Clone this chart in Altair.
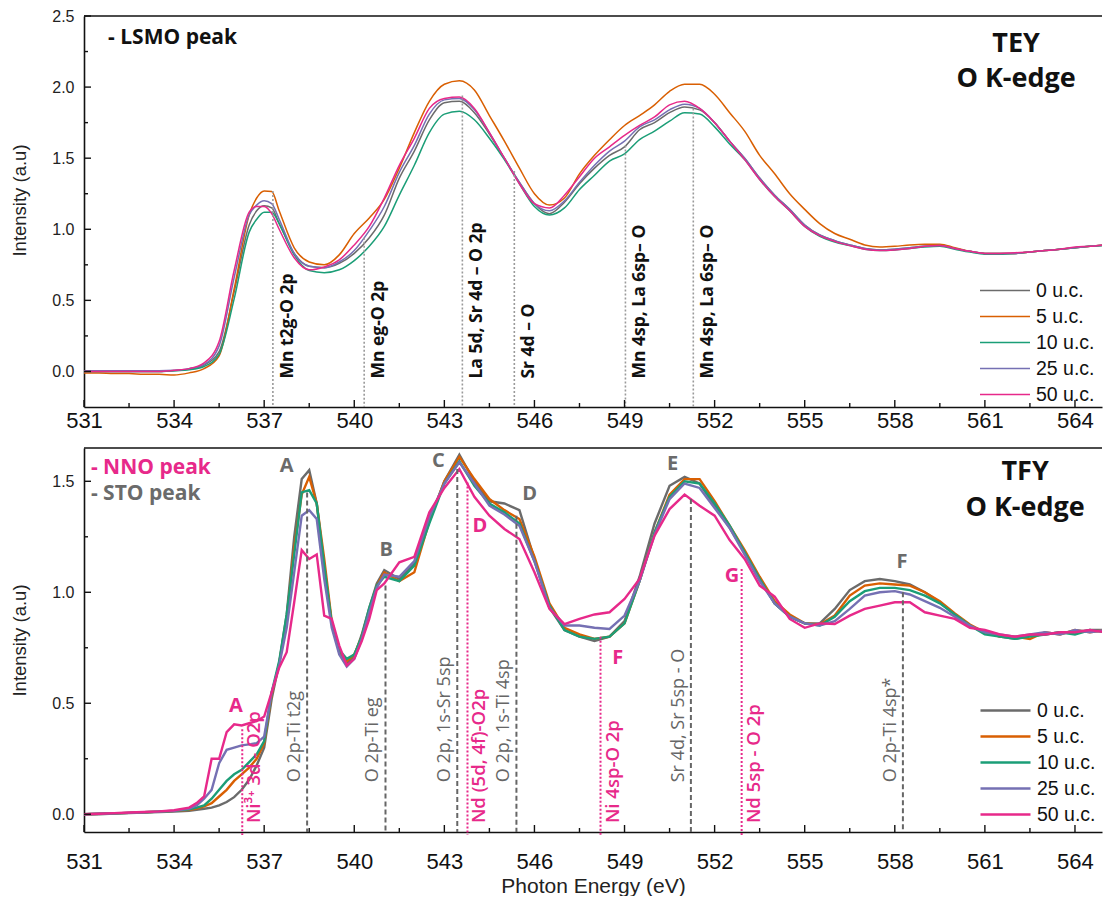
import altair as alt
import pandas as pd

SERIES = ["0 u.c.", "5 u.c.", "10 u.c.", "25 u.c.", "50 u.c."]
COLORS = ["#6b6b6b", "#d95f02", "#1b9e77", "#7570b3", "#e7298a"]

# ---------------- TEY (top panel) ----------------
TEY_E = [531.0, 531.5, 532.0, 532.5, 533.0, 533.5, 534.0, 534.5, 535.0, 535.5,
         536.0, 536.5, 536.75, 537.0, 537.25, 537.5, 538.0, 538.5, 539.0, 539.5, 540.0, 540.5,
         541.0, 541.5, 542.0, 542.5, 543.0, 543.5, 544.0, 544.5, 545.0, 545.5,
         546.0, 546.5, 547.0, 547.5, 548.0, 548.5, 549.0, 549.5, 550.0, 550.5,
         551.0, 551.5, 552.0, 552.5, 553.0, 553.5, 554.0, 554.5, 555.0, 555.5,
         556.0, 556.5, 557.0, 557.5, 558.0, 558.5, 559.0, 559.5, 560.0, 560.5,
         561.0, 561.5, 562.0, 562.5, 563.0, 563.5, 564.0, 564.5, 565.0]
TEY_0 = [0.0, 0.0, 0.0, 0.0, 0.0, 0.0, 0.005, 0.015, 0.045, 0.14,
         0.56, 1.03, 1.13, 1.165, 1.15, 1.04, 0.83, 0.74, 0.73, 0.76, 0.83, 0.94,
         1.10, 1.36, 1.55, 1.77, 1.89, 1.90, 1.82, 1.67, 1.50, 1.33,
         1.18, 1.11, 1.19, 1.32, 1.43, 1.52, 1.58, 1.70, 1.75, 1.82,
         1.86, 1.84, 1.75, 1.62, 1.50, 1.36, 1.24, 1.14, 1.03, 0.96,
         0.92, 0.89, 0.865, 0.855, 0.86, 0.87, 0.88, 0.885, 0.865, 0.845,
         0.83, 0.83, 0.83, 0.84, 0.85, 0.86, 0.87, 0.88, 0.89]
TEY_5 = [-0.01, -0.01, -0.015, -0.015, -0.02, -0.02, -0.025, -0.01, 0.02, 0.11,
         0.58, 1.10, 1.22, 1.27, 1.265, 1.13, 0.87, 0.77, 0.75, 0.82, 0.97, 1.08,
         1.21, 1.43, 1.68, 1.90, 2.02, 2.045, 1.98, 1.80, 1.62, 1.43,
         1.25, 1.17, 1.22, 1.39, 1.52, 1.63, 1.73, 1.80, 1.875, 1.97,
         2.02, 2.02, 1.95, 1.82, 1.69, 1.52, 1.39, 1.25, 1.14, 1.04,
         0.97, 0.93, 0.89, 0.875, 0.88, 0.89, 0.895, 0.895, 0.87, 0.845,
         0.83, 0.83, 0.83, 0.84, 0.85, 0.86, 0.87, 0.88, 0.89]
TEY_10 = [0.0, 0.0, 0.0, 0.0, 0.0, 0.0, 0.005, 0.012, 0.035, 0.12,
          0.51, 0.98, 1.07, 1.12, 1.12, 1.04, 0.82, 0.71, 0.695, 0.715, 0.78, 0.88,
          1.02, 1.24, 1.45, 1.68, 1.81, 1.83, 1.77, 1.64, 1.49, 1.32,
          1.16, 1.10, 1.15, 1.28, 1.38, 1.48, 1.53, 1.63, 1.69, 1.76,
          1.82, 1.81, 1.72, 1.60, 1.49, 1.35, 1.23, 1.13, 1.02, 0.95,
          0.91, 0.885, 0.86, 0.85, 0.855, 0.865, 0.875, 0.88, 0.86, 0.84,
          0.825, 0.825, 0.83, 0.84, 0.85, 0.86, 0.87, 0.88, 0.885]
TEY_25 = [0.005, 0.005, 0.005, 0.005, 0.005, 0.005, 0.008, 0.02, 0.05, 0.18,
          0.66, 1.10, 1.17, 1.20, 1.18, 1.07, 0.83, 0.74, 0.73, 0.77, 0.85, 0.99,
          1.16, 1.40, 1.59, 1.81, 1.91, 1.92, 1.84, 1.68, 1.50, 1.33,
          1.18, 1.13, 1.20, 1.33, 1.45, 1.55, 1.62, 1.72, 1.77, 1.84,
          1.88, 1.85, 1.75, 1.62, 1.50, 1.36, 1.24, 1.14, 1.03, 0.96,
          0.92, 0.89, 0.865, 0.855, 0.86, 0.87, 0.88, 0.885, 0.865, 0.845,
          0.83, 0.83, 0.83, 0.84, 0.85, 0.86, 0.87, 0.88, 0.89]
TEY_50 = [0.0, 0.0, 0.0, 0.0, 0.0, 0.0, 0.008, 0.02, 0.06, 0.21,
          0.71, 1.12, 1.16, 1.16, 1.11, 1.00, 0.80, 0.715, 0.735, 0.785, 0.89, 1.02,
          1.22, 1.45, 1.64, 1.85, 1.92, 1.93, 1.85, 1.68, 1.50, 1.32,
          1.18, 1.15, 1.24, 1.37, 1.50, 1.58, 1.66, 1.73, 1.79, 1.875,
          1.90, 1.85, 1.75, 1.62, 1.49, 1.35, 1.23, 1.13, 1.02, 0.955,
          0.915, 0.885, 0.86, 0.85, 0.855, 0.865, 0.88, 0.885, 0.865, 0.845,
          0.83, 0.83, 0.835, 0.84, 0.85, 0.86, 0.875, 0.88, 0.89]

# ---------------- TFY (bottom panel) ----------------
TFY_E = [531.0, 531.5, 532.0, 532.5, 533.0, 533.5, 534.0, 534.5,
         534.75, 535.0, 535.25, 535.5, 535.75, 536.0, 536.25, 536.5, 536.75, 537.0,
         537.25, 537.5, 537.75, 538.0, 538.25, 538.5, 538.75, 539.0, 539.25, 539.5,
         539.75, 540.0, 540.25, 540.5, 540.75, 541.0,
         541.5, 542.0, 542.5, 543.0, 543.5, 544.0, 544.5, 545.0, 545.5, 546.0,
         546.5, 547.0, 547.5, 548.0, 548.5, 549.0, 549.5, 550.0, 550.5, 551.0,
         551.5, 552.0, 552.5, 553.0, 553.5, 554.0, 554.5, 555.0, 555.5, 556.0,
         556.5, 557.0, 557.5, 558.0, 558.5, 559.0, 559.5, 560.0, 560.5, 561.0,
         561.5, 562.0, 562.5, 563.0, 563.5, 564.0, 564.5, 565.0]
TFY_0 = [0.0, 0.0, 0.003, 0.005, 0.008, 0.01, 0.012, 0.015,
         0.02, 0.025, 0.03, 0.04, 0.055, 0.077, 0.11, 0.155, 0.22, 0.30,
         0.52, 0.68, 0.90, 1.25, 1.51, 1.55, 1.40, 1.11, 0.86, 0.73,
         0.68, 0.71, 0.81, 0.93, 1.04, 1.10,
         1.06, 1.13, 1.32, 1.50, 1.62, 1.50, 1.41, 1.40, 1.37, 1.15,
         0.93, 0.83, 0.80, 0.78, 0.80, 0.87, 1.07, 1.31, 1.48, 1.52,
         1.49, 1.39, 1.29, 1.18, 1.06, 0.95, 0.89, 0.86, 0.86, 0.925,
         1.01, 1.05, 1.06, 1.05, 1.035, 1.00, 0.955, 0.90, 0.85, 0.82,
         0.80, 0.79, 0.805, 0.81, 0.82, 0.82, 0.83, 0.83]
TFY_5 = [0.0, 0.002, 0.004, 0.006, 0.009, 0.012, 0.015, 0.02,
         0.025, 0.035, 0.05, 0.08, 0.11, 0.15, 0.18, 0.21, 0.25, 0.32,
         0.54, 0.68, 0.88, 1.20, 1.44, 1.52, 1.40, 1.15, 0.87, 0.74,
         0.69, 0.72, 0.80, 0.92, 1.03, 1.09,
         1.05, 1.09, 1.32, 1.50, 1.61, 1.51, 1.42, 1.37, 1.33, 1.16,
         0.95, 0.84, 0.81, 0.79, 0.80, 0.86, 1.05, 1.27, 1.44, 1.51,
         1.51, 1.41, 1.30, 1.19, 1.07, 0.96, 0.90, 0.86, 0.855, 0.895,
         0.985, 1.03, 1.04, 1.035, 1.03, 1.00, 0.96, 0.905, 0.855, 0.82,
         0.80, 0.80, 0.79, 0.82, 0.81, 0.83, 0.82, 0.83]
TFY_10 = [0.0, 0.002, 0.004, 0.006, 0.009, 0.012, 0.015, 0.022,
          0.03, 0.04, 0.07, 0.11, 0.15, 0.18, 0.20, 0.235, 0.27, 0.33,
          0.55, 0.69, 0.90, 1.17, 1.45, 1.46, 1.40, 1.12, 0.86, 0.74,
          0.70, 0.72, 0.80, 0.93, 1.03, 1.07,
          1.05, 1.12, 1.31, 1.49, 1.59, 1.48, 1.40, 1.36, 1.31, 1.14,
          0.94, 0.83, 0.80, 0.79, 0.80, 0.86, 1.05, 1.27, 1.43, 1.50,
          1.49, 1.40, 1.30, 1.18, 1.06, 0.95, 0.89, 0.86, 0.85, 0.89,
          0.96, 1.005, 1.02, 1.02, 1.01, 0.985, 0.95, 0.90, 0.85, 0.81,
          0.80, 0.79, 0.80, 0.81, 0.82, 0.81, 0.83, 0.82]
TFY_25 = [0.0, 0.002, 0.004, 0.006, 0.009, 0.012, 0.016, 0.025,
          0.04, 0.07, 0.11, 0.23, 0.29, 0.30, 0.31, 0.315, 0.32, 0.35,
          0.55, 0.67, 0.84, 1.09, 1.345, 1.37, 1.33, 1.06, 0.84, 0.72,
          0.665, 0.70, 0.79, 0.91, 1.02, 1.08,
          1.07, 1.14, 1.34, 1.49, 1.585, 1.49, 1.39, 1.35, 1.30, 1.14,
          0.93, 0.85, 0.85, 0.84, 0.835, 0.895, 1.05, 1.26, 1.42, 1.49,
          1.47, 1.38, 1.29, 1.17, 1.05, 0.95, 0.89, 0.86, 0.85, 0.87,
          0.925, 0.985, 1.00, 1.005, 0.99, 0.96, 0.93, 0.89, 0.85, 0.82,
          0.81, 0.80, 0.81, 0.82, 0.81, 0.83, 0.82, 0.83]
TFY_50 = [0.0, 0.002, 0.005, 0.008, 0.01, 0.013, 0.018, 0.03,
          0.05, 0.08, 0.25, 0.25, 0.37, 0.405, 0.40, 0.41, 0.42, 0.44,
          0.55, 0.66, 0.73, 0.955, 1.19, 1.15, 1.17, 0.895, 0.88, 0.76,
          0.67, 0.70, 0.78, 0.88, 1.01, 1.04,
          1.135, 1.16, 1.36, 1.47, 1.555, 1.43, 1.345, 1.285, 1.24, 1.09,
          0.925, 0.857, 0.88, 0.90, 0.91, 0.97, 1.06, 1.255, 1.375, 1.44,
          1.39, 1.345, 1.235, 1.15, 1.03, 0.98, 0.88, 0.84, 0.86, 0.857,
          0.895, 0.925, 0.94, 0.955, 0.955, 0.91, 0.895, 0.88, 0.84, 0.83,
          0.81, 0.80, 0.81, 0.81, 0.82, 0.82, 0.83, 0.82]

# axis ticks
X_MAJOR = [531, 534, 537, 540, 543, 546, 549, 552, 555, 558, 561, 564]
X_MINOR = [532.5, 535.5, 538.5, 541.5, 544.5, 547.5, 550.5, 553.5, 556.5, 559.5, 562.5]
Y_TOP_MAJOR = [0.0, 0.5, 1.0, 1.5, 2.0, 2.5]
Y_TOP_MINOR = [0.25, 0.75, 1.25, 1.75, 2.25]
Y_BOT_MAJOR = [0.0, 0.5, 1.0, 1.5]
Y_BOT_MINOR = [0.25, 0.75, 1.25]

# annotations (top)
TEY_LINE_E = [537.29, 540.33, 543.6, 545.33, 549.03, 551.29]
TEY_LINE_TOP = [1.27, 0.94, 1.94, 1.41, 1.59, 1.85]
TEY_LINE_LABEL = ["Mn t2g-O 2p", "Mn eg-O 2p", "La 5d, Sr 4d – O 2p", "Sr 4d – O",
                  "Mn 4sp, La 6sp– O", "Mn 4sp, La 6sp– O"]

# annotations (bottom) - STO (gray dashed) and NNO (pink dotted)
STO_E = [538.43, 541.04, 543.43, 545.40, 551.21, 558.27]
STO_TOP = [1.45, 1.03, 1.555, 1.345, 1.42, 1.0]
STO_LABEL = ["O 2p-Ti t2g", "O 2p-Ti eg", "O  2p, 1s-Sr 5sp", "O  2p, 1s-Ti 4sp",
             "Sr 4d, Sr 5sp - O", "O 2p-Ti 4sp*"]
NNO_E = [536.27, 543.77, 548.20, 552.90]
NNO_TOP = [0.383, 1.495, 0.80, 1.105]
NNO_LABEL = ["Ni³⁺ 3d - O2p", "Nd (5d, 4f)-O2p", "Ni 4sp-O 2p", "Nd 5sp - O 2p"]

STO_LETTER = ["A", "B", "C", "D", "E", "F"]
STO_LETTER_E = [537.75, 541.06, 542.8, 545.84, 550.6, 558.24]
STO_LETTER_I = [1.57, 1.19, 1.593, 1.443, 1.578, 1.135]
NNO_LETTER = ["A", "D", "F", "G"]
NNO_LETTER_E = [536.06, 544.18, 548.77, 552.58]
NNO_LETTER_I = [0.488, 1.30, 0.706, 1.074]

for arr in (TEY_0, TEY_5, TEY_10, TEY_25, TEY_50):
    assert len(arr) == len(TEY_E), len(arr)
for arr in (TFY_0, TFY_5, TFY_10, TFY_25, TFY_50):
    assert len(arr) == len(TFY_E), len(arr)

W = 1018
H1 = 391
H2 = 384
XS = alt.Scale(domain=[531, 564.9], nice=False, zero=False)
YS_TOP = alt.Scale(domain=[-0.25, 2.5], nice=False, zero=False)
YS_BOT = alt.Scale(domain=[-0.08, 1.65], nice=False, zero=False)
CSCALE = alt.Scale(domain=SERIES, range=COLORS)

AX_FONT = "Liberation Sans"
ANN_FONT = "Open Sans"
FRAME = "#111111"


def long_df(E, cols):
    rows = []
    for name, vals in zip(SERIES, cols):
        for e, v in zip(E, vals):
            rows.append({"E": e, "I": v, "s": name})
    return pd.DataFrame(rows)


def tick_layers(ys, H, ymaj, ymin):
    out = []
    for vals, ln in ((X_MAJOR, 7), (X_MINOR, 4)):
        out.append(alt.Chart(pd.DataFrame({"E": vals})).mark_rule(color=FRAME, strokeWidth=1.4).encode(
            x=alt.X("E:Q", scale=XS), y=alt.value(H), y2=alt.value(H - ln)))
    for vals, ln in ((ymaj, 7), (ymin, 4)):
        out.append(alt.Chart(pd.DataFrame({"I": vals})).mark_rule(color=FRAME, strokeWidth=1.4).encode(
            y=alt.Y("I:Q", scale=ys), x=alt.value(0), x2=alt.value(ln)))
    out.append(alt.Chart(pd.DataFrame({"v": [0]})).mark_rule(color=FRAME, strokeWidth=1.6).encode(
        x=alt.value(0), x2=alt.value(W), y=alt.value(0)))
    return out


def text_at(df, ys, **kw):
    return alt.Chart(df).mark_text(**kw).encode(
        x=alt.X("E:Q", scale=XS),
        y=alt.Y("I:Q", scale=ys),
        text="label:N")


def yaxis(vals, **extra):
    return alt.Axis(values=vals, format=".1f", title="Intensity (a.u)", titleFont=AX_FONT,
                    titleFontSize=18.5, titleFontWeight="normal", titleColor="#222222",
                    titlePadding=22, labelFont=AX_FONT, labelFontSize=16, labelColor="#222222",
                    labelPadding=10, ticks=False, domainColor=FRAME, domainWidth=1.6, grid=False,
                    **extra)


def legend(ly, sw):
    return alt.Legend(orient="none", legendX=895, legendY=ly, title=None,
                      symbolType="stroke", symbolSize=2500, symbolStrokeWidth=sw,
                      clipHeight=25.2, rowPadding=0, labelFont=AX_FONT,
                      labelFontSize=19.5, labelColor="#111111", labelOffset=5,
                      padding=0, labelLimit=200)


# ---------- top panel ----------
top_lines = alt.Chart(long_df(TEY_E, [TEY_0, TEY_5, TEY_10, TEY_25, TEY_50])).mark_line(
    strokeWidth=1.5, clip=True, interpolate="monotone").encode(
    x=alt.X("E:Q", scale=XS, axis=alt.Axis(values=X_MAJOR, title=None, labelFont=AX_FONT,
            labelFontSize=22, labelColor="#111111", labelPadding=3, ticks=False,
            domainColor=FRAME, domainWidth=1.6, grid=False, labelFlush=False, labelOverlap=False)),
    y=alt.Y("I:Q", scale=YS_TOP, axis=yaxis(Y_TOP_MAJOR, titleY=184)),
    color=alt.Color("s:N", scale=CSCALE, sort=SERIES, legend=legend(262, 1.5)))

top_vlines = alt.Chart(pd.DataFrame({"E": TEY_LINE_E, "I": TEY_LINE_TOP})).mark_rule(
    color="#9a9a9a", strokeWidth=1.6, strokeDash=[2, 2]).encode(
    x=alt.X("E:Q", scale=XS), y=alt.Y("I:Q", scale=YS_TOP), y2=alt.value(H1))

top_vtext = alt.Chart(pd.DataFrame({"E": TEY_LINE_E, "label": TEY_LINE_LABEL})).mark_text(
    angle=270, align="left", baseline="middle", dy=15, font=ANN_FONT, fontWeight="bold",
    fontSize=17.5, color="#111111").encode(
    x=alt.X("E:Q", scale=XS), y=alt.datum(-0.05), text="label:N")

top_notes = [
    text_at(pd.DataFrame({"E": [531.8], "I": [2.345], "label": ["- LSMO peak"]}), YS_TOP,
            align="left", baseline="middle", font=ANN_FONT, fontWeight="bold", fontSize=21, color="#111111"),
    text_at(pd.DataFrame({"E": [562.04, 562.04], "I": [2.30, 2.06], "label": ["TEY", "O K-edge"]}), YS_TOP,
            align="center", baseline="middle", font=ANN_FONT, fontWeight="bold", fontSize=27, color="#111111"),
]

top = alt.layer(top_lines, top_vlines, top_vtext, *top_notes,
                *tick_layers(YS_TOP, H1, Y_TOP_MAJOR, Y_TOP_MINOR)).properties(width=W, height=H1)

# ---------- bottom panel ----------
bot_lines = alt.Chart(long_df(TFY_E, [TFY_0, TFY_5, TFY_10, TFY_25, TFY_50])).mark_line(
    strokeWidth=2.4, clip=True).encode(
    x=alt.X("E:Q", scale=XS, axis=alt.Axis(values=X_MAJOR, title="Photon Energy (eV)",
            titleFont=AX_FONT, titleFontSize=21, titleFontWeight="normal", titleColor="#222222",
            titlePadding=3, labelFont=AX_FONT, labelFontSize=22, labelColor="#111111",
            labelPadding=19, ticks=False, domainColor=FRAME, domainWidth=1.6, grid=False,
            labelFlush=False, labelOverlap=False)),
    y=alt.Y("I:Q", scale=YS_BOT, axis=yaxis(Y_BOT_MAJOR)),
    color=alt.Color("s:N", scale=CSCALE, sort=SERIES, legend=legend(250, 2.5)))

sto_lines = alt.Chart(pd.DataFrame({"E": STO_E, "I": STO_TOP})).mark_rule(
    color="#666666", strokeWidth=2, strokeDash=[5, 3]).encode(
    x=alt.X("E:Q", scale=XS), y=alt.Y("I:Q", scale=YS_BOT), y2=alt.value(H2))
nno_lines = alt.Chart(pd.DataFrame({"E": NNO_E, "I": NNO_TOP})).mark_rule(
    color="#e7298a", strokeWidth=2, strokeDash=[2, 2]).encode(
    x=alt.X("E:Q", scale=XS), y=alt.Y("I:Q", scale=YS_BOT), y2=alt.value(H2 + 3))

sto_text = alt.Chart(pd.DataFrame({"E": STO_E, "label": STO_LABEL})).mark_text(
    angle=270, align="left", baseline="middle", dy=-12, font=ANN_FONT, fontSize=18,
    color="#666666").encode(x=alt.X("E:Q", scale=XS), y=alt.datum(0.144), text="label:N")
nno_text = alt.Chart(pd.DataFrame({"E": NNO_E, "label": NNO_LABEL})).mark_text(
    angle=270, align="left", baseline="middle", dy=12, font=ANN_FONT, fontSize=18.5,
    fontWeight=600, color="#e7298a").encode(x=alt.X("E:Q", scale=XS), y=alt.datum(-0.04), text="label:N")

sto_let = text_at(pd.DataFrame({"E": STO_LETTER_E, "I": STO_LETTER_I, "label": STO_LETTER}), YS_BOT,
                  align="center", baseline="middle", font=ANN_FONT, fontWeight="bold", fontSize=20,
                  color="#6b6b6b")
nno_let = text_at(pd.DataFrame({"E": NNO_LETTER_E, "I": NNO_LETTER_I, "label": NNO_LETTER}), YS_BOT,
                  align="center", baseline="middle", font=ANN_FONT, fontWeight="bold", fontSize=20,
                  color="#e7298a")

bot_notes = [
    text_at(pd.DataFrame({"E": [531.23], "I": [1.559], "label": ["- NNO peak"]}), YS_BOT,
            align="left", baseline="middle", font=ANN_FONT, fontWeight="bold", fontSize=21, color="#e7298a"),
    text_at(pd.DataFrame({"E": [531.23], "I": [1.443], "label": ["- STO peak"]}), YS_BOT,
            align="left", baseline="middle", font=ANN_FONT, fontWeight="bold", fontSize=21, color="#6b6b6b"),
    text_at(pd.DataFrame({"E": [562.34, 562.34], "I": [1.54, 1.38], "label": ["TFY", "O K-edge"]}), YS_BOT,
            align="center", baseline="middle", font=ANN_FONT, fontWeight="bold", fontSize=27, color="#111111"),
]

bottom = alt.layer(bot_lines, sto_lines, nno_lines, sto_text, nno_text, sto_let, nno_let, *bot_notes,
                   *tick_layers(YS_BOT, H2, Y_BOT_MAJOR, Y_BOT_MINOR)).properties(width=W, height=H2)

chart = alt.vconcat(top, bottom, spacing=16).resolve_scale(color="independent").properties(
    padding={"left": 10, "top": 8, "right": 0, "bottom": 0}, background="white"
).configure_view(stroke=None)

chart.save("out.html", embed_options={"renderer": "svg", "actions": False})
